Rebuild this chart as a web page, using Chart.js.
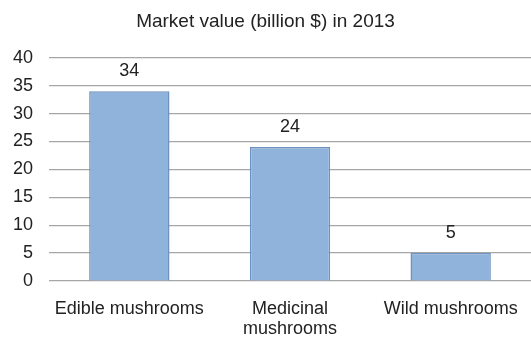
<!DOCTYPE html>
<html>
<head>
<meta charset="utf-8">
<script src="https://cdn.jsdelivr.net/npm/chart.js@4/dist/chart.umd.min.js"></script>
<style>
  html, body { margin: 0; padding: 0; background: #fff; }
  #wrap { width: 531px; height: 338px; position: relative; }
</style>
</head>
<body>
<div id="wrap"><canvas id="marketChart"></canvas></div>
<script>
const categories = ["Edible mushrooms", ["Medicinal", "mushrooms"], "Wild mushrooms"];
const marketValues = [34, 24, 5];
const yTicks = [0, 5, 10, 15, 20, 25, 30, 35, 40];

// writes each bar's value just above it
const valueLabels = {
    id: "valueLabels",
    afterDatasetsDraw(chart) {
        const { ctx } = chart;
        const meta = chart.getDatasetMeta(0);
        ctx.save();
        ctx.font = "18px 'Liberation Sans', Arial, sans-serif";
        ctx.fillStyle = "#222";
        ctx.textAlign = "center";
        ctx.textBaseline = "middle";
        meta.data.forEach((bar, i) => {
            ctx.fillText(String(marketValues[i]), bar.x, bar.y - 20);
        });
        ctx.restore();
    }
};

Chart.defaults.font.family = "'Liberation Sans', Arial, sans-serif";
Chart.defaults.color = "#222";

new Chart(document.getElementById("marketChart"), {
    type: "bar",
    data: {
        labels: categories,
        datasets: [{
            data: marketValues,
            backgroundColor: "#8FB3DB",
            borderColor: "#6E91BF",
            borderWidth: 1.5,
            barPercentage: 0.5,
            categoryPercentage: 1.0
        }]
    },
    options: {
        responsive: true,
        maintainAspectRatio: false,
        animation: false,
        layout: { padding: 0 },
        plugins: {
            legend: { display: false },
            tooltip: { enabled: false },
            title: {
                display: true,
                text: "Market value (billion $) in 2013",
                font: { size: 19, weight: "normal" },
                color: "#222",
                padding: { top: 10, bottom: 25 }
            }
        },
        scales: {
            x: {
                grid: { display: false },
                border: { display: false },
                ticks: { font: { size: 18, lineHeight: 1.1 }, color: "#222", padding: 10, maxRotation: 0 },
                afterFit(axis) { axis.height = 57; }
            },
            y: {
                min: 0,
                max: 40,
                afterBuildTicks(axis) { axis.ticks = yTicks.map(v => ({ value: v })); },
                grid: { color: "#A6A6A6", lineWidth: 1.2, drawTicks: false },
                border: { display: false },
                ticks: { font: { size: 18 }, color: "#222", padding: 16 },
                afterFit(axis) { axis.width = 49; }
            }
        }
    },
    plugins: [valueLabels]
});
</script>
</body>
</html>
